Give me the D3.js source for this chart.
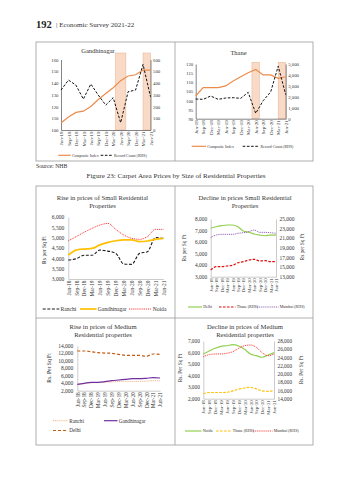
<!DOCTYPE html>
<head>
<meta charset="utf-8">
<script src="https://d3js.org/d3.v7.min.js"></script>
<style>
  body { margin: 0; background: #fff; }
  text { font-family: "Liberation Serif", "DejaVu Serif", serif; }
</style>
</head>
<body>
<script>
// quarters on every x axis
var quarters = ["Jun-18", "Sep-18", "Dec-18", "Mar-19", "Jun-19", "Sep-19", "Dec-19",
                "Mar-20", "Jun-20", "Sep-20", "Dec-20", "Mar-21", "Jun-21"];

// housing price index and record count, top row
var gandhinagarIndex = [106, 111, 115, 116, 120, 126, 131, 136, 142, 146, 147, 151, 151];
var gandhinagarCount = [340, 425, 382, 263, 391, 297, 212, 275, 62, 326, 340, 558, 283];
var thaneIndex = [102.6, 107, 107, 107, 108, 110.7, 113, 115.2, 117, 114, 114, 112.1, 113];
var thaneCount = [1800, 1770, 2070, 1770, 1890, 1920, 1860, 2410, 490, 1650, 2450, 4800, 2200];
var shadedPeriods = [["Jun-20", "Jun-20"], ["Mar-21", "Jun-21"]];

// small residential, rising
var smallRanchi = [3920, 3980, 4150, 4150, 4400, 4350, 4240, 3730, 3710, 4240, 4320, 5000, 4970];
var smallGandhinagar = [4160, 4400, 4450, 4480, 4650, 4770, 4850, 4890, 4890, 4810, 4840, 4920, 4970];
var smallNoida = [4850, 5050, 5260, 5450, 5610, 5690, 5400, 5130, 4970, 4920, 5050, 5400, 5400];

// small residential, declining (Thane and Mumbai on RHS)
var smallDelhi = [7200, 7330, 7420, 7480, 7480, 7330, 6960, 6850, 6700, 6610, 6550, 6610, 6610];
var smallThane = [14400, 15080, 15080, 15230, 15370, 15910, 16120, 16470, 16620, 16270, 16340, 16120, 16120];
var smallMumbai = [21110, 21670, 21810, 21810, 21810, 22020, 22150, 22360, 22710, 22220, 22220, 22150, 22020];

// medium residential, rising
var mediumRanchi = [3650, 3900, 4100, 4150, 4250, 4350, 4450, 4500, 4450, 4500, 4550, 4650, 4650];
var mediumGandhinagar = [3700, 3970, 4240, 4240, 4400, 4670, 4850, 5040, 5200, 5200, 5310, 5470, 5390];
var mediumDelhi = [12590, 12590, 12400, 12130, 12040, 11970, 11700, 11440, 11440, 11440, 11170, 11790, 11700];

// medium residential, declining (Thane and Mumbai on RHS)
var mediumNoida = [5870, 6130, 6370, 6540, 6590, 6680, 6570, 6280, 5870, 5730, 5590, 5790, 5990];
var mediumThane = [15200, 15500, 15500, 15500, 15550, 15900, 16300, 16600, 16750, 16400, 15900, 15800, 15900];
var mediumMumbai = [24190, 24680, 24850, 24850, 25020, 25400, 26230, 26860, 27030, 26470, 25160, 24430, 24850];

var SERIF = '"Liberation Serif", "DejaVu Serif", serif';
var comma = d3.format(",");

var svg = d3.select("body").append("svg")
    .attr("width", 349)
    .attr("height", 480)
    .style("background", "#fff");

// page header
svg.append("text").attr("x", 36).attr("y", 27.5).attr("font-size", 10.5)
    .attr("font-weight", "bold").attr("fill", "#222").text("192");
svg.append("text").attr("x", 56).attr("y", 27).attr("font-size", 7)
    .attr("fill", "#333").text("| Economic Survey 2021-22");

// frames
function frame(x0, y0, x1, y1) {
    svg.append("rect").attr("x", x0).attr("y", y0).attr("width", x1 - x0).attr("height", y1 - y0)
        .attr("fill", "none").attr("stroke", "#9c9c9c").attr("stroke-width", 0.8);
}
function rule(x0, y0, x1, y1) {
    svg.append("line").attr("x1", x0).attr("y1", y0).attr("x2", x1).attr("y2", y1)
        .attr("stroke", "#9c9c9c").attr("stroke-width", 0.8);
}
frame(36, 42, 313, 161);
rule(175, 42, 175, 161);
frame(36, 186, 313, 445);
rule(175, 186, 175, 445);
rule(36, 318, 313, 318);

svg.append("text").attr("x", 36).attr("y", 168).attr("font-size", 5.8)
    .attr("fill", "#333").text("Source: NHB");
svg.append("text").attr("x", 176).attr("y", 177.5).attr("font-size", 7.1)
    .attr("text-anchor", "middle").attr("fill", "#333")
    .text("Figure 23: Carpet Area Prices by Size of Residential Properties");

function styleAxis(ax, fs, color) {
    ax.attr("font-family", SERIF).attr("font-size", fs);
    ax.select(".domain").attr("stroke", color).attr("stroke-width", 0.6);
    ax.selectAll("text").attr("fill", "#333");
}

function chart(o) {
    var g = svg.append("g");
    var x = d3.scalePoint().domain(quarters).range([o.x0, o.x1]);
    var step = x.step();
    var yL = d3.scaleLinear().domain(o.left.domain).range([o.y1, o.y0]);
    var yR = o.right ? d3.scaleLinear().domain(o.right.domain).range([o.y1, o.y0]) : null;

    // shaded periods behind the lines
    (o.shade || []).forEach(function(s) {
        var a = x(s[0]), b = x(s[1]);
        if (s[0] === s[1]) { a -= step * o.shadePad; b += step * o.shadePad; }
        g.append("rect").attr("x", a).attr("y", o.shadeTop)
            .attr("width", b - a).attr("height", o.y1 - o.shadeTop)
            .attr("fill", "#f9dac7").attr("stroke", "#e8b08e").attr("stroke-width", 0.5);
    });

    var axL = g.append("g").attr("transform", "translate(" + o.x0 + ",0)")
        .call(d3.axisLeft(yL)
            .tickValues(d3.range(o.left.domain[0], o.left.domain[1] + 1e-6, o.left.step))
            .tickSize(0).tickPadding(o.pad).tickFormat(o.left.fmt));
    styleAxis(axL, o.fs, o.axisColor);

    if (yR) {
        var axR = g.append("g").attr("transform", "translate(" + o.x1 + ",0)")
            .call(d3.axisRight(yR)
                .tickValues(d3.range(o.right.domain[0], o.right.domain[1] + 1e-6, o.right.step))
                .tickSize(0).tickPadding(o.pad).tickFormat(o.right.fmt));
        styleAxis(axR, o.fs, o.axisColor);
    }

    var axB = g.append("g").attr("transform", "translate(0," + o.y1 + ")")
        .call(d3.axisBottom(x).tickSize(0));
    styleAxis(axB, o.xfs, o.axisColor);
    axB.selectAll("text")
        .attr("transform", "rotate(-90)")
        .attr("text-anchor", "end")
        .attr("x", -1.5).attr("y", 0).attr("dy", "0.33em");

    // titles
    o.title.forEach(function(t, i) {
        g.append("text").attr("x", o.tx).attr("y", o.ty + i * o.tlh)
            .attr("text-anchor", "middle").attr("font-size", o.tfs).attr("fill", "#333").text(t);
    });
    (o.yTitles || []).forEach(function(t) {
        g.append("text").attr("transform", "translate(" + t[1] + "," + t[2] + ") rotate(-90)")
            .attr("text-anchor", "middle").attr("font-size", o.yfs).attr("fill", "#333").text(t[0]);
    });

    var line = function(y) {
        return d3.line()
            .x(function(d, i) { return x(quarters[i]); })
            .y(function(d) { return y(d); })
            .curve(o.curve);
    };

    o.series.forEach(function(s) {
        g.append("path").datum(s.values)
            .attr("fill", "none")
            .attr("stroke", s.color)
            .attr("stroke-width", s.width)
            .attr("stroke-dasharray", s.dash || null)
            .attr("d", line(s.rhs ? yR : yL));

        // legend entry
        var L = s.legend;
        g.append("line").attr("x1", L[0]).attr("x2", L[0] + L[2])
            .attr("y1", L[1]).attr("y2", L[1])
            .attr("stroke", s.color).attr("stroke-width", s.width)
            .attr("stroke-dasharray", s.dash || null);
        g.append("text").attr("x", L[0] + L[2] + 1.2).attr("y", L[1]).attr("dy", "0.35em")
            .attr("font-size", o.lfs).attr("fill", "#333").text(s.name);
    });
}

var ORANGE = "#ec8c4c";

// Gandhinagar, composite index vs record count
chart({
    x0: 61, x1: 150.5, y0: 59.5, y1: 130,
    left: { domain: [100, 160], step: 10, fmt: d3.format("d") },
    right: { domain: [0, 600], step: 100, fmt: d3.format("d") },
    shade: shadedPeriods, shadePad: 0.7, shadeTop: 53,
    fs: 4.8, xfs: 5, pad: 2.5, axisColor: "#333",
    title: ["Gandhinagar"], tx: 98, ty: 52.5, tlh: 0, tfs: 6.5,
    lfs: 3.9, curve: d3.curveLinear,
    series: [
        { name: "Composite Index", values: gandhinagarIndex, color: ORANGE, width: 1.2, legend: [58.3, 155.3, 12.4] },
        { name: "Record Count (RHS)", values: gandhinagarCount, rhs: true, color: "#111", width: 1, dash: "2.6,1.6", legend: [100.7, 155.3, 12] }
    ]
});

// Thane, composite index vs record count
chart({
    x0: 195.7, x1: 285.7, y0: 64, y1: 118.7,
    left: { domain: [90, 120], step: 5, fmt: d3.format("d") },
    right: { domain: [0, 5000], step: 1000, fmt: comma },
    shade: shadedPeriods, shadePad: 0.5, shadeTop: 62.3,
    fs: 4.8, xfs: 5, pad: 2.5, axisColor: "#333",
    title: ["Thane"], tx: 238.5, ty: 55, tlh: 0, tfs: 6.5,
    lfs: 3.9, curve: d3.curveLinear,
    series: [
        { name: "Composite Index", values: thaneIndex, color: ORANGE, width: 1.2, legend: [191.7, 146.3, 14.3] },
        { name: "Record Count (RHS)", values: thaneCount, rhs: true, color: "#111", width: 1, dash: "2.6,1.6", legend: [242.7, 146.3, 16.6] }
    ]
});

// Rise in prices of small residential properties
chart({
    x0: 68.3, x1: 163.3, y0: 217, y1: 279,
    left: { domain: [3000, 6000], step: 500, fmt: comma },
    fs: 5.6, xfs: 5.4, pad: 4, axisColor: "#a8a8a8",
    title: ["Rise in prices of Small Residential", "Properties"], tx: 102.5, ty: 199.5, tlh: 8.3, tfs: 6.6,
    yTitles: [["Rs per Sq Ft", 46, 250]], yfs: 5.6,
    lfs: 5.6, curve: d3.curveMonotoneX,
    series: [
        { name: "Ranchi", values: smallRanchi, color: "#1a1a1a", width: 1.1, dash: "3,1.6", legend: [42.7, 309, 16.6] },
        { name: "Gandhinagar", values: smallGandhinagar, color: "#ffc000", width: 1.7, legend: [80, 309, 16.6] },
        { name: "Noida", values: smallNoida, color: "#ff1a1a", width: 0.9, dash: "1,0.9", legend: [129, 309, 22.5] }
    ]
});

// Decline in prices of small residential properties
chart({
    x0: 210.7, x1: 276, y0: 219, y1: 276.7,
    left: { domain: [3000, 8000], step: 1000, fmt: comma },
    right: { domain: [13000, 25000], step: 2000, fmt: comma },
    fs: 5.4, xfs: 4.9, pad: 3.5, axisColor: "#a8a8a8",
    title: ["Decline in prices Small Residential", "Properties"], tx: 245, ty: 199.5, tlh: 8.3, tfs: 6.6,
    yTitles: [["Rs per Sq Ft", 186, 248], ["Rs per Sq Ft", 304, 247]], yfs: 5.4,
    lfs: 4, curve: d3.curveMonotoneX,
    series: [
        { name: "Delhi", values: smallDelhi, color: "#92d050", width: 1.2, legend: [188, 307, 14] },
        { name: "Thane (RHS)", values: smallThane, rhs: true, color: "#e01010", width: 1.2, dash: "2.6,1.4", legend: [219, 307, 16.5] },
        { name: "Mumbai (RHS)", values: smallMumbai, rhs: true, color: "#7030a0", width: 0.8, dash: "1,0.9", legend: [257, 307, 21.5] }
    ]
});

// Rise in prices of medium residential properties
chart({
    x0: 77.3, x1: 160, y0: 345.7, y1: 390.7,
    left: { domain: [2000, 14000], step: 2000, fmt: comma },
    fs: 5.5, xfs: 5.4, pad: 4, axisColor: "#a8a8a8",
    title: ["Rise in prices of Medium", "Residential properties"], tx: 103, ty: 328.5, tlh: 8.3, tfs: 6.6,
    yTitles: [["Rs. Per Sq Ft", 51, 368]], yfs: 5.6,
    lfs: 5.2, curve: d3.curveMonotoneX,
    series: [
        { name: "Ranchi", values: mediumRanchi, color: "#f4b183", width: 1, dash: "1,0.9", legend: [53, 420.7, 15] },
        { name: "Gandhinagar", values: mediumGandhinagar, color: "#7030a0", width: 1.2, legend: [104, 420.7, 13.5] },
        { name: "Delhi", values: mediumDelhi, color: "#c55a11", width: 1.2, dash: "3,2", legend: [53, 430.5, 15] }
    ]
});

// Decline in prices of medium residential properties
chart({
    x0: 203.3, x1: 274, y0: 341, y1: 398.7,
    left: { domain: [2000, 7000], step: 1000, fmt: comma },
    right: { domain: [14000, 28000], step: 2000, fmt: comma },
    fs: 5.3, xfs: 4.9, pad: 3.5, axisColor: "#a8a8a8",
    title: ["Decline in prices of Medium", "Residential properties"], tx: 245, ty: 328.5, tlh: 8.3, tfs: 6.6,
    yTitles: [["Rs. Per Sq Ft", 182, 368], ["Rs. Per Sq Ft", 302.5, 370]], yfs: 5.4,
    lfs: 4, curve: d3.curveMonotoneX,
    series: [
        { name: "Noida", values: mediumNoida, color: "#92d050", width: 1.2, legend: [185, 431, 16.5] },
        { name: "Thane (RHS)", values: mediumThane, rhs: true, color: "#ffc000", width: 1.2, dash: "2.6,1.4", legend: [216, 431, 15.5] },
        { name: "Mumbai (RHS)", values: mediumMumbai, rhs: true, color: "#ff1a1a", width: 0.9, dash: "1,0.9", legend: [253, 431, 19.5] }
    ]
});
</script>
</body>
